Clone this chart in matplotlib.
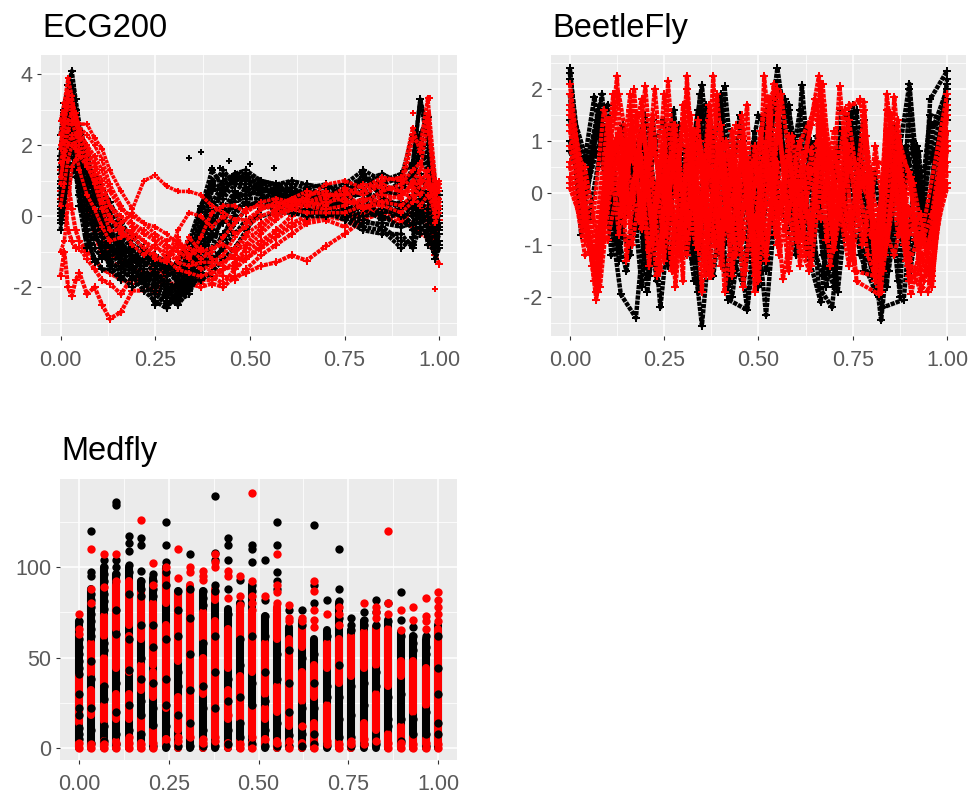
"""Scatter panels of the ECG200, BeetleFly and Medfly curves by class."""

import matplotlib

matplotlib.use("Agg")
import matplotlib.pyplot as plt

WIDTH, HEIGHT = 970, 798
BLACK = "#000000"
RED = "#FF0000"
CHAIN = (0, (0.95, 0.22))

ECG_X = [0, .01, .02, .03, .04, .05, .07, .09, .11, .13, .16, .19, .22, .25, .28, .31, .34, .37,
         .40, .43, .46, .49, .53, .57, .61, .65, .70, .75, .80, .85, .90, .93, .95, .97, .99, 1.0]

ECG_RED_BACK = [
    [-1.7, -1.0, -2.0, -2.25, -1.8, -1.6, -2.2, -2.0, -2.5, -2.9, -2.7, -2.1, -2.1, -2.0, -1.9, -1.9, -1.9, -2.0,
     -1.9, -2.0, -1.7, -1.6, -1.4, -1.3, -1.1, -1.25, -0.85, -0.5, -0.1, 0.1, 0.0, -0.2, -0.5, -0.6, -1.1, -1.35],
    [1.3, 2.3, 3.0, 2.8, 2.4, 1.5, 0.7, 0.0, -0.6, -1.1, -1.2, -1.5, -1.6, -1.6, -1.5, -1.6, -1.7, -1.8,
     -1.8, -1.5, -1.4, -1.0, -0.7, -0.4, 0.0, 0.2, 0.1, 0.0, 0.1, 0.2, -0.1, -0.3, 0.1, 0.3, -0.5, -0.3],
    [0.5, 1.4, 1.0, 0.2, -0.4, -0.7, -1.0, -1.2, -1.5, -1.6, -1.8, -1.9, -1.7, -1.4, -1.1, -0.9, -1.4, -1.9,
     -1.4, -1.7, -1.8, -1.5, -1.1, -0.8, -0.5, -0.2, -0.1, -0.3, 0.0, 0.5, 0.7, 0.5, 0.8, 0.4, -0.9, 0.6],
    [0.0, 0.4, -0.4, -0.7, -0.9, -0.9, -1.2, -1.5, -1.8, -1.9, -2.2, -1.7, -1.9, -2.2, -1.6, -1.3, -1.9, -1.6,
     -1.7, -1.9, -1.5, -1.2, -0.9, -0.6, -0.3, -0.1, 0.0, -0.1, 0.1, 0.1, 0.2, 0.3, 0.4, -0.1, -0.6, -0.5],
    [0.7, 1.2, 1.9, 2.4, 2.0, 1.1, 0.4, -0.5, -1.1, -1.3, -1.4, -1.3, -1.2, -1.5, -1.7, -1.4, -1.0, -0.8,
     -1.2, -1.0, -1.2, -1.2, -0.8, -0.5, -0.2, 0.0, 0.3, 0.2, 0.3, 0.0, -0.2, 0.2, 0.2, -0.3, -0.1, -0.1],
]

ECG_BLACK = [
    [1.6, 3.0, 3.7, 4.1, 3.3, 2.6, 1.7, 1.0, 0.5, -0.1, -0.7, -1.2, -1.5, -1.8, -2.1, -2.4, -1.7, -0.4,
     0.7, 1.0, 1.2, 1.2, 1.0, 0.8, 0.7, 0.6, 0.5, 0.6, 0.9, 0.7, 0.6, 1.4, 3.3, 2.4, 0.9, 0.4],
    [0.6, 2.4, 3.4, 3.5, 3.0, 2.2, 1.3, 0.6, 0.1, -0.5, -1.0, -1.4, -1.7, -2.0, -2.3, -2.5, -1.9, -0.9,
     0.4, 0.9, 1.1, 1.1, 0.9, 0.7, 0.7, 0.5, 0.4, 0.4, 1.2, 0.5, 0.2, 0.6, 2.2, 1.7, 0.4, 0.0],
    [0.1, 1.6, 2.8, 3.2, 2.6, 1.8, 1.0, 0.3, -0.2, -0.7, -1.2, -1.6, -1.9, -2.2, -2.5, -2.3, -2.0, -1.2,
     0.0, 0.8, 1.0, 0.9, 0.8, 0.6, 0.5, 0.4, 0.3, 0.3, 0.8, 0.2, 0.0, 0.3, 1.1, 1.0, 0.0, -0.3],
    [-0.4, 0.8, 2.0, 2.6, 2.0, 1.2, 0.4, -0.2, -0.6, -1.0, -1.4, -1.7, -2.1, -2.4, -2.6, -2.2, -1.7, -1.6,
     -0.4, 0.5, 0.9, 0.7, 0.6, 0.5, 0.4, 0.3, 0.2, 0.1, 0.5, 0.0, -0.3, -0.2, 0.4, 0.2, -0.6, -0.8],
    [2.3, 3.2, 3.4, 3.0, 2.2, 1.5, 0.7, 0.0, -0.5, -0.9, -1.3, -1.3, -1.2, -1.4, -1.6, -1.7, -1.3, -0.3,
     0.3, 0.7, 1.1, 1.0, 0.8, 0.6, 0.6, 0.7, 0.6, 0.5, 1.1, 0.9, 1.1, 2.3, 2.3, 2.8, 0.2, -0.2],
    [0.0, 1.2, 2.3, 2.9, 2.3, 1.0, -0.2, -0.9, -1.2, -1.0, -1.0, -0.9, -1.1, -1.3, -1.5, -1.9, -1.5, -1.0,
     -0.6, -0.1, 0.4, 0.8, 0.8, 0.6, 0.4, 0.5, 0.6, 0.2, -0.1, -0.3, -0.7, -0.8, 0.1, -0.3, -1.2, -0.9],
    [1.0, 2.6, 3.1, 3.0, 2.7, 2.0, 1.2, 0.8, 0.3, 0.0, -0.5, -1.0, -1.3, -1.6, -1.9, -2.1, -1.8, -1.5,
     -1.0, -0.5, 0.0, 0.5, 0.9, 0.9, 0.6, 0.4, 0.4, 0.6, 0.7, 0.5, 0.3, 0.5, 1.2, 0.6, 0.1, 0.0],
    [0.3, 1.6, 2.6, 3.3, 2.7, 0.6, -0.5, -1.3, -1.1, -1.2, -1.6, -1.1, -1.5, -1.8, -2.0, -2.0, -1.9, -1.8,
     -1.6, -1.2, -0.9, -0.4, 0.2, 0.5, 0.5, 0.7, 0.2, 0.0, -0.3, -0.4, -0.9, -0.6, 0.5, -0.8, -1.0, -0.7],
    [1.4, 2.2, 2.9, 3.6, 3.0, 2.4, 1.3, 0.9, 0.7, 0.2, -0.4, -0.8, -1.0, -1.1, -1.4, -1.8, -0.9, 0.2,
     1.3, 0.8, 1.2, 1.0, 1.0, 0.9, 1.0, 0.9, 0.8, 0.9, 1.3, 1.0, 1.2, 1.5, 3.3, 2.0, 0.7, 0.6],
    [0.8, 2.0, 3.1, 3.7, 3.0, 1.7, 0.8, 0.2, -0.2, -0.6, -0.9, -1.2, -1.0, -1.3, -1.2, -1.6, -1.4, 0.0,
     1.0, 1.2, 1.0, 1.2, 0.7, 0.8, 0.8, 0.6, 0.7, 0.8, 1.1, 0.8, 0.8, 1.2, 1.8, 1.5, 0.5, 0.2],
    [1.9, 2.8, 3.3, 2.9, 2.5, 2.1, 1.5, 1.1, 0.8, 0.4, -0.2, -0.6, -0.9, -1.2, -1.5, -1.3, -0.7, 0.3,
     0.9, 1.3, 0.9, 0.8, 0.6, 0.5, 0.6, 0.8, 0.9, 0.6, 1.0, 1.2, 0.9, 1.2, 2.3, 2.6, 0.8, 0.1],
    [-0.2, 0.3, 1.3, 2.1, 1.6, 0.6, -0.6, -1.2, -1.5, -1.5, -1.8, -1.4, -1.9, -1.5, -1.9, -2.4, -2.2, -1.4,
     -0.9, 0.1, 0.6, 0.3, 0.4, 0.3, 0.3, 0.1, 0.1, -0.1, -0.4, -0.5, -0.5, -0.9, -0.3, -0.6, -0.9, -0.5],
    [1.2, 2.1, 2.4, 2.7, 2.2, 1.6, 0.9, 0.5, 0.0, -0.4, -0.8, -1.1, -1.4, -1.2, -1.7, -2.2, -2.0, -0.7,
     -0.1, 0.2, 0.7, 0.5, 0.5, 0.4, 0.5, 0.3, 0.5, 0.4, 0.3, 0.4, 0.0, 0.1, 0.7, 0.4, 0.3, -0.4],
    [0.4, 1.1, 1.7, 2.2, 1.8, 1.3, 0.2, -0.5, -0.9, -0.8, -1.3, -1.5, -1.3, -1.1, -1.3, -1.8, -1.6, -1.2,
     -1.4, -0.8, -0.2, 0.2, 0.5, 0.7, 0.8, 0.6, 0.3, 0.3, 0.0, 0.1, 0.2, 0.4, 0.0, -0.1, -0.2, 0.3],
    [1.7, 2.9, 3.2, 3.4, 2.9, 2.3, 1.4, 0.6, 0.3, -0.3, -1.1, -1.5, -1.8, -2.1, -2.4, -2.4, -1.5, -0.6,
     0.9, 0.6, 1.2, 1.3, 1.0, 0.9, 0.9, 0.8, 0.6, 0.7, 1.0, 0.6, 1.0, 0.9, 2.0, 1.1, 0.6, 0.7],
    [0.9, 1.9, 2.2, 2.4, 1.9, 1.4, 0.5, -0.1, -0.3, -0.8, -1.1, -1.2, -1.6, -1.7, -2.0, -2.3, -1.2, -0.2,
     -0.2, -0.2, 0.6, 0.6, 0.7, 0.7, 0.5, 0.5, 0.4, 0.6, 0.6, 0.3, 0.4, 0.2, 0.3, 0.7, -0.1, 0.1],
    [0.2, 0.9, 1.5, 1.9, 1.3, 0.3, -0.9, -0.6, -0.8, -1.3, -1.5, -1.8, -1.6, -1.9, -2.2, -1.9, -1.8, -0.8,
     -0.5, -0.6, 0.2, 0.4, 0.3, 0.2, 0.2, 0.2, 0.0, 0.2, 0.2, -0.1, 0.1, -0.4, -0.5, -0.4, -0.4, 0.1],
    [-0.1, 0.5, 0.9, 1.4, 1.1, 0.8, 0.0, -0.4, -1.0, -1.4, -1.7, -2.0, -1.8, -2.5, -2.2, -2.5, -2.1, -1.6,
     -1.2, -0.9, -0.5, -0.1, 0.0, 0.1, 0.1, 0.0, 0.0, 0.1, -0.2, -0.2, -0.3, 0.0, -0.2, 0.1, -0.8, -0.2],
]

ECG_RED_FRONT = [
    [2.7, 3.2, 3.9, 3.4, 2.8, 2.6, 2.6, 2.2, 1.9, 1.3, 0.7, 0.2, 1.0, 1.15, 0.85, 0.7, 0.7, 0.6,
     0.3, 0.1, -0.1, -0.1, 0.2, 0.3, 0.5, 0.4, 0.5, 0.8, 0.6, 0.9, 0.7, 2.2, 2.0, 3.35, 1.0, 0.8],
    [2.3, 2.9, 3.3, 3.0, 2.6, 2.5, 2.3, 2.0, 1.6, 0.9, 0.3, -0.2, -0.4, -0.6, -0.8, -1.0, -1.2, -0.6,
     0.1, 0.3, 0.3, 0.1, 0.4, 0.5, 0.4, 0.5, 0.9, 1.0, 0.8, 1.1, 1.0, 2.5, 1.8, 2.9, 0.6, 0.9],
    [0.9, 1.8, 2.4, 2.7, 2.3, 2.0, 1.6, 1.2, 0.6, -0.1, -0.3, -0.5, -0.7, -0.9, -1.0, -1.3, -1.4, -1.3,
     -1.3, -1.1, -0.6, -0.2, 0.2, 0.4, 0.3, 0.3, 0.4, 0.5, 0.2, 0.6, 0.5, 1.0, 1.3, 2.7, 0.4, 0.5],
    [-1.0, -0.7, 0.3, 1.4, 1.6, 1.8, 1.5, 0.9, 0.2, -0.4, -0.4, -0.8, -1.1, -0.8, -1.2, -1.5, -1.6, -1.7,
     -1.6, -1.5, -1.3, -0.9, -0.5, -0.1, 0.2, 0.1, 0.1, 0.1, 0.3, 0.3, 0.1, 0.4, 0.9, 1.3, -0.2, 0.1],
    [1.9, 2.6, 3.5, 3.2, 2.9, 2.2, 1.8, 1.4, 0.8, 0.3, 0.0, -0.3, -0.5, -0.7, -0.9, -1.2, -0.6, -1.0,
     -0.9, -0.8, -1.0, -0.8, -0.3, 0.0, 0.3, 0.6, 0.7, 0.4, 0.4, 0.7, 0.9, 1.3, 1.5, 1.1, 0.3, 0.3],
    [1.5, 2.1, 2.7, 2.9, 2.6, 2.4, 2.0, 1.7, 1.3, 0.7, 0.2, 0.0, -0.2, -0.3, -0.5, -0.8, -0.9, -1.2,
     -1.0, -0.6, -0.2, 0.2, 0.3, 0.3, 0.5, 0.7, 0.6, 0.6, 0.9, 0.8, 0.7, 0.7, 1.1, 0.9, 0.5, 1.0],
    [0.3, 0.9, 1.6, 2.0, 1.9, 1.3, 0.6, 0.2, -0.3, -0.7, -0.6, -0.4, -0.7, -1.1, -1.3, -0.7, -1.1, -0.9,
     -1.2, -1.4, -0.9, -0.5, -0.2, 0.1, 0.2, 0.3, 0.2, 0.3, 0.5, 0.4, 0.3, 0.6, 0.3, 0.6, 0.1, 0.4],
    [2.0, 2.7, 3.1, 3.1, 2.7, 2.3, 2.0, 1.5, 1.0, 0.3, -0.2, 0.1, -0.2, -0.5, -0.7, -0.6, -1.2, -1.5,
     -1.4, -1.3, -1.1, -0.6, -0.4, 0.2, 0.3, 0.4, 0.3, 0.7, 0.2, 0.4, 0.6, 0.9, 1.0, 0.8, 0.9, 0.7],
    [1.1, 1.7, 2.0, 2.3, 2.0, 1.7, 1.4, 1.0, 0.4, 0.0, -0.5, -0.6, -0.9, -1.2, -1.3, -0.4, 0.1, 0.0,
     -0.3, 0.0, -0.5, -0.3, 0.0, 0.2, 0.4, 0.4, 0.6, 0.6, 0.7, 1.0, 1.1, 0.8, 0.6, 1.0, 0.7, 0.2],
]

ECG_BLACK_X = [.34, .37, .40, .42, .445, .50, .565, .99]
ECG_BLACK_Y = [1.65, 1.8, 1.35, 1.35, 1.55, 1.47, 1.35, -1.2]
ECG_RED_X = [.99, .93, .975]
ECG_RED_Y = [-2.05, 2.9, 3.35]

BEETLE_GRID = [0, .04, .07, .10, .13, .16, .19, .22, .25, .28, .31, .34, .37, .40, .43, .46, .49,
               .52, .55, .58, .61, .64, .67, .70, .74, .78, .81, .84, .87, .90, .93, .96, 1.0]

BEETLE_BLACK_X = [
    [0, .03, .065, .09, .135, .175, .21, .24, .29, .35, .385, .42, .47, .51, .55, .61, .665, .72, .77, .825, .865, .90, .935, .955, 1.0],
    [0, .035, .085, .125, .165, .205, .25, .30, .35, .39, .41, .46, .50, .545, .59, .615, .66, .695, .75, .785, .83, .885, .92, .95, 1.0],
    [0, .05, .075, .11, .15, .19, .23, .275, .32, .345, .395, .43, .48, .52, .57, .63, .675, .71, .76, .80, .84, .875, .90, .93, .965, 1.0],
    [0, .04, .07, .10, .14, .18, .22, .26, .31, .36, .41, .45, .49, .53, .58, .64, .67, .72, .77, .81, .86, .90, .93, .955, 1.0],
    [0, .05, .09, .13, .17, .21, .25, .29, .34, .38, .42, .47, .51, .55, .60, .645, .68, .73, .78, .82, .87, .91, .94, .97, 1.0],
    [0, .045, .08, .12, .16, .20, .24, .28, .33, .37, .42, .46, .50, .54, .59, .625, .67, .70, .755, .80, .845, .89, .93, .96, 1.0],
    [0, .03, .08, .11, .15, .20, .27, .33, .40, .44, .50, .56, .60, .655, .68, .74, .82, .86, .90, .925, .945, .965, 1.0],
    BEETLE_GRID,
    BEETLE_GRID,
]
BEETLE_BLACK_Y = [
    [2.4, 0.2, 1.85, 0.5, -1.95, -2.4, 0.3, -2.2, 1.3, -2.55, 0.2, -2.05, -2.25, 0.2, 2.4, -0.6, -2.1, 1.6, 1.0, -2.45, 0.4, 2.1, -0.8, 1.8, 2.35],
    [2.2, -0.3, 1.9, -1.0, 1.2, -1.9, 0.9, -0.4, 2.07, -0.9, 2.05, -1.6, -0.2, 1.9, -0.7, 2.07, -1.8, -2.2, 1.7, -0.9, -2.2, -2.05, 0.9, -0.9, 2.2],
    [1.7, 0.5, 1.6, -0.4, -1.5, 0.9, -1.7, 1.6, -1.0, 1.9, -1.1, -2.0, 0.7, -2.35, 1.8, -1.0, 0.9, -1.9, 1.6, -1.6, 0.8, -2.0, 2.0, -0.7, 1.3, 2.0],
    [1.4, 0.3, 1.4, 0.0, 1.3, -0.7, 1.4, -1.4, 0.5, 1.7, -1.0, 1.5, -1.3, 0.5, 1.6, -0.9, -1.6, 1.2, -1.2, -1.9, 1.3, -1.6, -0.2, 1.5, 1.4],
    [1.0, -0.5, 1.2, -1.1, 0.6, -1.6, 0.2, -1.0, 1.6, -1.6, 0.7, -2.25, 1.4, 0.0, -1.2, 0.9, -1.8, 0.6, 1.4, -2.0, -0.5, 1.0, -0.9, 0.8, 0.9],
    [0.8, 0.0, 1.6, -0.5, 0.4, 1.5, -0.9, 0.6, -1.3, 1.5, -1.8, 0.4, -1.8, 1.6, 0.3, 1.3, -0.8, -1.3, 0.9, -0.6, -1.5, 0.9, -0.4, -0.2, 1.2],
    [1.9, -0.8, 1.7, -1.2, 1.0, -0.8, 1.4, -1.7, 1.9, -0.7, 1.5, 1.2, -1.0, 1.1, -1.0, -0.6, -1.7, 0.9, -1.4, 0.8, -1.0, 0.6, 1.8],
    [1.5, 0.6, 1.2, 1.7, -0.5, -1.2, 1.0, -1.3, 0.4, 1.2, -1.2, 1.5, 0.5, 1.8, -1.7, 1.0, -1.4, 1.6, 0.6, 1.7, -0.7, 1.0, -1.2, -1.8, 1.5, -0.6, -1.3, 0.7, -1.7, 1.6, -0.9, 1.3, 1.6],
    [2.3, -0.1, 0.8, 1.3, -1.3, 0.6, -1.8, 0.8, 1.4, -0.9, 0.9, -1.9, 1.3, 0.3, -1.2, -1.8, 1.2, -1.5, 1.2, 0.2, 1.6, -1.3, 0.2, -1.6, 1.0, -1.5, 0.4, -1.8, 1.1, 0.3, 0.4, 0.7, 2.1],
]

BEETLE_RED_X = [
    [0, .07, .125, .15, .20, .24, .26, .30, .31, .35, .38, .41, .47, .49, .515, .565, .61, .66, .69, .715, .76, .82, .84, .875, .905, 1.0],
    [0, .065, .115, .145, .17, .21, .25, .28, .32, .36, .39, .43, .46, .50, .54, .58, .635, .665, .70, .73, .77, .825, .86, .90, .95, 1.0],
    [0, .06, .10, .13, .16, .19, .225, .27, .30, .34, .37, .40, .44, .48, .52, .56, .60, .65, .69, .74, .79, .82, .85, .89, .94, 1.0],
    [0, .075, .11, .14, .175, .21, .245, .285, .33, .355, .395, .42, .455, .495, .53, .555, .605, .655, .68, .725, .755, .81, .845, .885, .93, 1.0],
    [0, .055, .09, .12, .155, .195, .235, .265, .31, .345, .385, .415, .465, .505, .545, .59, .625, .67, .705, .75, .785, .83, .87, .91, .96, 1.0],
    [0, .07, .10, .135, .165, .20, .23, .275, .305, .35, .375, .425, .45, .485, .525, .57, .615, .66, .695, .735, .775, .815, .855, .895, .945, 1.0],
    [0, .08, .12, .155, .185, .215, .255, .295, .325, .365, .405, .44, .475, .51, .55, .585, .64, .675, .71, .745, .795, .835, .865, .915, .955, 1.0],
    [0, .065, .105, .14, .18, .22, .26, .29, .335, .37, .41, .435, .47, .515, .56, .60, .63, .665, .70, .74, .78, .82, .86, .905, .935, 1.0],
    BEETLE_GRID,
    BEETLE_GRID,
    BEETLE_GRID,
    BEETLE_GRID,
    BEETLE_GRID,
    BEETLE_GRID,
]
BEETLE_RED_Y = [
    [2.1, -2.05, 2.25, -1.3, 2.05, -1.5, 2.15, -1.7, 2.25, -1.9, 2.25, -1.9, 1.7, -1.9, 2.25, -1.65, 0.2, 2.25, -0.5, 2.05, -1.7, -1.95, 1.9, -0.3, -1.95, 1.9],
    [1.9, -1.7, 1.9, -0.6, 2.0, -1.4, 1.2, -1.8, 1.5, -1.6, 1.9, -1.6, 1.1, -1.7, 2.1, -0.5, -1.5, 2.1, -1.1, 1.6, 1.8, -1.9, 1.85, -1.6, -1.9, 1.7],
    [1.6, -1.4, 1.4, 0.0, 1.9, -0.7, 2.0, -1.5, 1.7, -1.0, 1.4, -1.4, 1.3, 0.4, -1.3, 1.9, -0.4, 1.8, -1.4, 1.4, -1.2, -1.8, 1.5, -1.3, -1.7, 1.5],
    [1.3, -1.9, 0.9, -0.3, 1.5, -1.1, 0.8, -1.1, 1.2, -1.4, 0.9, -0.7, 1.5, -1.4, 1.8, -1.2, 0.9, 1.7, -0.9, 1.2, -1.5, -1.6, 1.2, -1.0, -1.9, 1.2],
    [0.9, -1.0, 1.6, 0.9, -0.4, 1.3, -1.3, 0.7, -0.9, 1.0, -1.0, 1.0, -1.5, 1.2, -0.8, 1.1, -1.2, 1.4, 0.0, -1.3, 1.1, -1.5, 0.9, 0.2, -1.7, 1.0],
    [0.5, -1.6, 0.5, 1.2, -1.0, 0.6, -1.6, 1.3, -0.4, 0.7, -1.6, 0.2, 0.9, -1.0, 1.2, -0.7, 0.7, 1.0, -0.8, 0.9, -1.0, 0.6, 0.5, -1.4, -1.5, 0.8],
    [0.2, -1.8, 1.0, -0.2, 0.8, -0.5, 0.3, -1.2, 0.6, -0.8, 0.7, -1.2, 0.4, 1.0, -0.4, 0.5, -1.4, 0.9, -0.3, 0.6, -0.8, -1.2, 0.7, -0.9, -1.6, 0.4],
    [0.1, -1.2, 0.2, 1.0, -0.5, 0.9, -0.4, 0.2, -1.0, 0.5, -0.6, 0.6, -0.3, 0.7, 0.1, -0.9, 0.5, -0.5, 0.8, -0.7, 0.3, -0.4, -1.2, 0.3, -1.3, 0.2],
    [1.2, -0.6, -1.7, 0.8, 1.9, 0.6, 1.8, -1.0, 1.9, 0.0, 2.0, -0.8, 1.7, -1.1, 0.8, -1.8, 0.2, 1.8, 2.0, -1.2, 0.4, 1.3, 2.1, -0.4, 1.7, 1.75, -1.7, 1.6, 0.9, -1.7, -1.2, -1.8, 1.5],
    [0.6, -1.2, -1.0, 1.3, -0.8, 1.6, -0.6, 1.5, -1.3, 1.3, -0.6, 1.4, -1.6, 0.9, -1.5, 0.6, -1.6, 0.9, -1.0, 1.1, -1.4, 0.8, -0.2, 1.2, -1.1, 1.6, -1.5, 0.5, 1.4, -1.3, -0.8, -1.5, 0.9],
    [1.7, 0.2, -1.9, -0.2, 0.6, -0.6, 1.2, 0.2, -0.8, 0.9, -1.2, 0.6, -0.5, 1.3, -0.9, 1.1, -1.3, -0.2, 1.5, -0.4, 1.0, -0.9, 1.7, 0.3, -1.4, 1.2, -1.3, 1.2, -0.5, 0.4, -1.7, -1.4, 0.6],
    [0.3, -0.9, -1.4, 0.3, 1.1, -0.3, 0.7, -0.7, 0.9, -1.5, 0.5, -1.1, 0.8, -0.4, 1.2, -0.9, 0.9, -1.2, 0.6, -1.5, 0.1, -0.8, 1.3, -1.1, 0.6, -0.9, 0.9, -1.0, 1.1, 0.3, -1.5, -1.0, 0.1],
    [0.9, 0.5, -0.8, -0.9, 0.2, 1.0, -0.3, 1.0, -0.2, 0.5, 1.2, -0.3, 0.4, -0.8, 0.5, -0.3, 0.6, -0.8, 1.2, 0.2, -0.9, 0.4, 0.9, -0.9, 0.9, 0.1, -0.6, -1.0, 0.4, -0.8, -0.4, -1.6, 1.2],
    [1.5, -0.2, -1.2, 0.5, -0.4, 1.2, 0.3, -0.4, 0.6, -0.6, 0.3, 0.9, -0.9, 0.4, -0.2, 0.8, -0.6, 0.4, -0.3, 0.7, -0.2, -0.5, 0.5, 0.8, -0.5, 0.5, -1.0, 0.8, -0.8, -0.3, -1.0, -0.4, 1.7],
]

MEDFLY_X = [0, .034, .069, .103, .138, .172, .207, .241, .276, .310, .345, .379, .414, .448, .483,
            .517, .552, .586, .621, .655, .690, .724, .759, .793, .828, .862, .897, .931, .966, 1.0]

# top of the unbroken black run in each column, every column starts at 0
MEDFLY_BLACK_TOP = [70, 88, 100, 96, 100, 92, 94, 100, 87, 88, 87, 80, 77, 80, 90,
                    73, 77, 67, 70, 60, 65, 80, 65, 70, 67, 71, 64, 62, 60, 68]

# unbroken red runs in each column, as (low, high)
MEDFLY_RED_RUNS = [
    [(14, 40), (0, 3)],
    [(41, 58), (18, 32), (0, 2)],
    [(62, 73), (36, 50), (15, 24), (0, 4)],
    [(66, 90), (44, 62), (16, 30), (0, 4)],
    [(68, 92), (42, 62), (16, 30), (0, 5)],
    [(60, 86), (32, 46), (10, 16), (0, 3)],
    [(46, 80), (28, 42), (2, 10)],
    [(22, 68), (80, 98), (2, 5)],
    [(48, 85), (10, 28), (0, 2)],
    [(6, 90)],
    [(60, 75), (30, 50), (0, 4)],
    [(6, 70), (82, 88)],
    [(44, 66), (16, 32), (0, 3)],
    [(16, 40), (62, 78), (0, 4)],
    [(42, 75), (8, 22), (0, 3)],
    [(30, 58), (16, 22), (2, 5)],
    [(60, 78), (20, 34), (0, 4)],
    [(12, 60), (0, 2)],
    [(26, 42), (56, 66), (0, 3)],
    [(28, 46), (0, 14)],
    [(44, 58), (4, 24)],
    [(36, 60), (0, 4)],
    [(40, 62), (0, 3)],
    [(4, 14), (44, 64)],
    [(10, 30), (46, 66)],
    [(34, 66), (0, 8)],
    [(40, 48), (0, 12)],
    [(20, 48), (0, 6)],
    [(24, 44), (0, 5)],
    [(2, 66)],
]

# separate dots, scattered over the runs
MEDFLY_BLACK = [
    [70, 60, 56, 52, 48, 44, 41, 30, 22, 18, 11, 8, 5],
    [120, 97, 95, 85, 82, 78, 74, 70, 66, 62, 48, 38, 22, 10, 3],
    [104, 100, 96, 92, 85, 81, 77, 58, 54, 34, 27, 12, 4],
    [136, 134, 104, 100, 96, 76, 63, 36, 20, 8, 2],
    [117, 113, 109, 101, 97, 85, 60, 43, 24, 10],
    [116, 112, 98, 92, 88, 84, 68, 50, 38, 26, 18, 8],
    [96, 92, 88, 84, 68, 56, 36, 22, 13, 1],
    [125, 112, 103, 97, 90, 60, 38, 24, 12, 1],
    [87, 76, 62, 42, 34, 18, 1],
    [107, 88, 72, 52, 32, 14, 1],
    [87, 83, 79, 58, 34, 22, 10, 1],
    [139, 108, 104, 90, 87, 62, 42, 22, 1],
    [116, 112, 104, 88, 74, 38, 26, 10, 2],
    [93, 80, 60, 46, 28, 14, 6],
    [112, 110, 103, 90, 87, 62, 36, 24, 2],
    [104, 82, 73, 62, 42, 26, 10, 1],
    [125, 112, 97, 92, 88, 52, 38, 14, 1],
    [76, 54, 36, 20, 7, 1],
    [76, 68, 50, 22, 8, 1],
    [123, 90, 80, 52, 36, 22, 8, 2],
    [82, 62, 34, 28, 1],
    [110, 88, 81, 72, 46, 28, 16, 6],
    [72, 68, 65, 34, 18, 6, 1],
    [75, 71, 68, 36, 24, 2],
    [82, 75, 68, 42, 34, 2],
    [80, 70, 28, 16, 12],
    [86, 71, 62, 30, 16, 4],
    [67, 62, 58, 54, 16, 8],
    [62, 56, 52, 20, 8, 1],
    [62, 44, 30, 14, 8],
]

MEDFLY_RED = [
    [74, 66, 63, 3, 0],
    [110, 88, 80, 2, 0],
    [107, 89, 2, 0],
    [107, 92, 3, 0],
    [6, 3, 0],
    [126, 2, 0],
    [102, 90, 3, 0],
    [5, 100],
    [110, 94, 6, 4],
    [100, 97, 6],
    [98, 95, 93, 5, 3],
    [107, 103, 100, 6, 4],
    [98, 95, 83, 18],
    [95, 84, 79, 2, 0],
    [141, 92, 84, 80, 76, 6, 0],
    [84, 5],
    [107, 90, 86, 80, 3],
    [79, 72, 70, 4, 0],
    [72, 70, 12],
    [92, 87, 76, 71, 67, 0],
    [74, 4, 2],
    [78, 74, 68, 2, 0],
    [4, 2],
    [80, 5, 2],
    [78, 75, 72, 4],
    [120, 80, 74, 3, 0],
    [76, 65, 3, 0],
    [78, 71, 2, 0],
    [83, 73, 70, 66, 3, 0],
    [86, 82, 78, 74, 70, 2, 0],
]

TICKS_01 = [0, .25, .5, .75, 1]
TICK_LABELS_01 = ["0.00", "0.25", "0.50", "0.75", "1.00"]
MINOR_01 = [.125, .375, .625, .875]
ECG_YTICKS = [-2, 0, 2, 4]
ECG_YMINOR = [-3, -1, 1, 3]
BEETLE_YTICKS = [-2, -1, 0, 1, 2]
BEETLE_YMINOR = [-2.5, -1.5, -.5, .5, 1.5, 2.5]
MEDFLY_YTICKS = [0, 50, 100]
MEDFLY_YMINOR = [25, 75, 125]


def make_panel(fig, box, title, title_x, title_y, xlim, ylim, yticks, yminor):
    left, top, right, bottom = box
    ax = fig.add_axes([left / WIDTH, 1 - bottom / HEIGHT, (right - left) / WIDTH, (bottom - top) / HEIGHT])
    ax.set_facecolor("#EBEBEB")
    ax.set_xlim(xlim)
    ax.set_ylim(ylim)
    for spine in ax.spines.values():
        spine.set_visible(False)
    ax.set_axisbelow(True)
    ax.set_xticks(TICKS_01, TICK_LABELS_01)
    ax.set_yticks(yticks, [str(t) for t in yticks])
    ax.set_xticks(MINOR_01, minor=True)
    ax.set_yticks(yminor, minor=True)
    ax.grid(which="major", color="white", lw=1.1)
    ax.grid(which="minor", color="white", lw=0.55)
    ax.tick_params(which="minor", length=0)
    ax.tick_params(which="major", length=3, width=0.8, color="#333333", labelcolor="#5A5A5A", labelsize=15.5)
    ax.tick_params(axis="x", pad=7)
    ax.tick_params(axis="y", pad=3)
    fig.text(title_x / WIDTH, 1 - title_y / HEIGHT, title, fontsize=23.5, color="black", ha="left", va="baseline")
    return ax


def trail(ax, x, y, color, lw, ms):
    ax.plot(x, y, color=color, lw=lw, ls=CHAIN, marker="P", ms=ms, mew=0, dash_capstyle="butt",
            dash_joinstyle="round", zorder=3)


def main():
    plt.rcParams["font.family"] = ["Liberation Sans", "DejaVu Sans"]
    fig = plt.figure(figsize=(WIDTH / 100, HEIGHT / 100), dpi=100)

    ax = make_panel(fig, (41, 55, 457, 336), "ECG200", 42, 37, (-0.0515, 1.047), (-3.38, 4.55), ECG_YTICKS, ECG_YMINOR)
    for y in ECG_RED_BACK:
        trail(ax, ECG_X, y, RED, 3.0, 5.5)
    for y in ECG_BLACK:
        trail(ax, ECG_X, y, BLACK, 3.0, 5.5)
    for y in ECG_RED_FRONT:
        trail(ax, ECG_X, y, RED, 2.6, 5)
    ax.scatter(ECG_BLACK_X, ECG_BLACK_Y, s=20, c=BLACK, marker="P", lw=0, zorder=3)
    ax.scatter(ECG_RED_X, ECG_RED_Y, s=20, c=RED, marker="P", lw=0, zorder=3)

    ax = make_panel(fig, (551, 55, 966, 336), "BeetleFly", 552, 37, (-0.05, 1.05), (-2.75, 2.654), BEETLE_YTICKS, BEETLE_YMINOR)
    for x, y in zip(BEETLE_BLACK_X, BEETLE_BLACK_Y):
        trail(ax, x, y, BLACK, 3.2, 5.5)
    for x, y in zip(BEETLE_RED_X, BEETLE_RED_Y):
        trail(ax, x, y, RED, 3.0, 5.5)

    ax = make_panel(fig, (60, 479, 457, 760), "Medfly", 61, 460, (-0.053, 1.053), (-6.6, 148.6), MEDFLY_YTICKS, MEDFLY_YMINOR)
    ax.vlines(MEDFLY_X, 0, MEDFLY_BLACK_TOP, color=BLACK, lw=5.8, zorder=2.2, capstyle="round")
    for x, runs in zip(MEDFLY_X, MEDFLY_RED_RUNS):
        ax.vlines([x] * len(runs), [r[0] for r in runs], [r[1] for r in runs], color=RED, lw=5.8, zorder=2.4, capstyle="round")
    for x, values in zip(MEDFLY_X, MEDFLY_BLACK):
        ax.scatter([x] * len(values), values, s=36, c=BLACK, lw=0, zorder=3)
    for x, values in zip(MEDFLY_X, MEDFLY_RED):
        ax.scatter([x] * len(values), values, s=36, c=RED, lw=0, zorder=4)

    fig.savefig("out.png", dpi=100)
    plt.close(fig)


if __name__ == "__main__":
    main()
